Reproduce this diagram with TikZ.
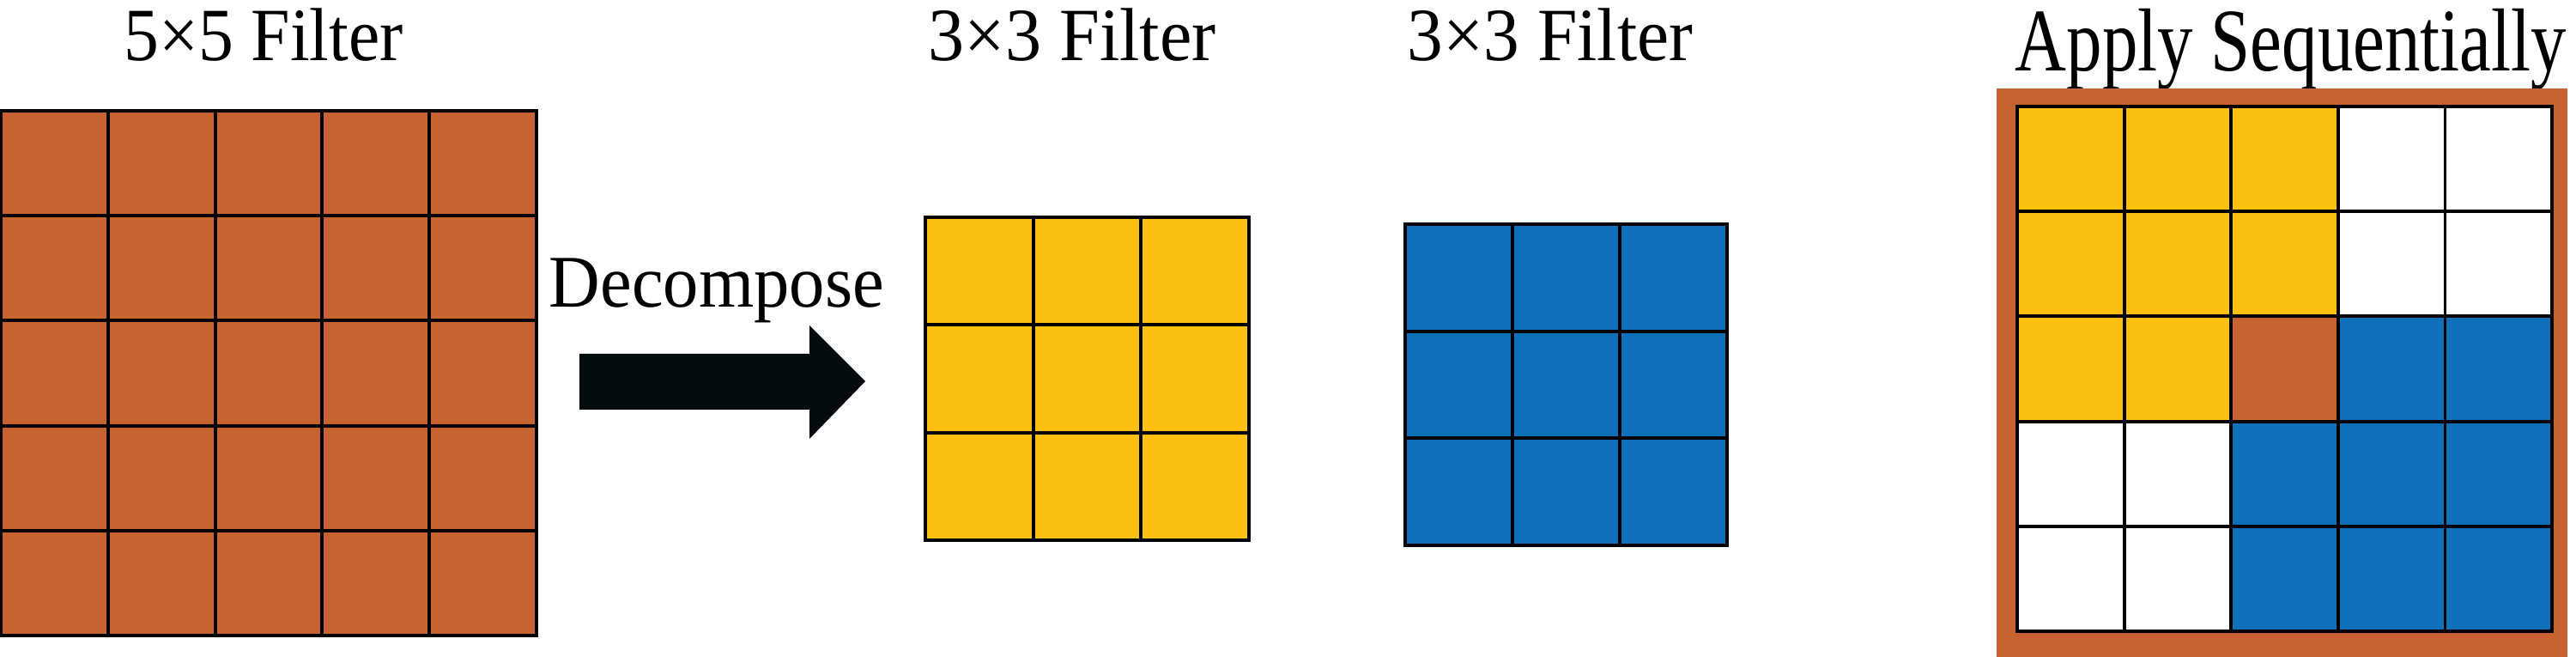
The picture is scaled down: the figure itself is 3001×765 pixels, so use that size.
\documentclass[tikz,border=0pt]{standalone}
\usepackage{graphicx}
\usepackage{fontspec}
\setmainfont{Liberation Serif}
\definecolor{cor}{HTML}{C66330}
\definecolor{cyel}{HTML}{FCC011}
\definecolor{cblu}{HTML}{1070B9}
\definecolor{carr}{HTML}{050A0C}
\newcommand{\fittext}[3]{\resizebox{#1}{\height}{\fontsize{#2}{#2}\selectfont #3}}
\begin{document}
\begin{tikzpicture}[x=0.01cm,y=-0.01cm,
  cellbox/.style={draw=black,line width=1.1pt},
  lbl/.style={anchor=base,inner sep=0pt,outer sep=0pt}]
\useasboundingbox (0,0) rectangle (3001,765);
% titles
\node[lbl] (t55) at (307,71) {\fittext{3.25cm}{24.9pt}{5×5 Filter}};
\node[lbl] (t33a) at (1249,71) {\fittext{3.35cm}{24.9pt}{3×3 Filter}};
\node[lbl] (t33b) at (1806,71) {\fittext{3.32cm}{24.9pt}{3×3 Filter}};
\node[lbl] (tap) at (2669,83) {\fittext{6.42cm}{29.6pt}{Apply Sequentially}};
\node[lbl] (tdec) at (835,358) {\fittext{3.90cm}{24.6pt}{Decompose}};
% 5x5 filter
\foreach \i in {0,...,4}{\foreach \j in {0,...,4}{
  \path[fill=cor,cellbox] ({1+\i*124.8},{129+\j*122.2}) rectangle ++(124.8,122.2);}}
% arrow
\fill[carr] (675,412) -- (943,412) -- (943,379) -- (1008,444) -- (943,511) -- (943,477) -- (675,477) -- cycle;
% yellow 3x3
\foreach \i in {0,...,2}{\foreach \j in {0,...,2}{
  \path[fill=cyel,cellbox] ({1078+\i*125.7},{253+\j*125.3}) rectangle ++(125.7,125.3);}}
% blue 3x3
\foreach \i in {0,...,2}{\foreach \j in {0,...,2}{
  \path[fill=cblu,cellbox] ({1637+\i*125},{261+\j*124.7}) rectangle ++(125,124.7);}}
% apply sequentially
\fill[cor] (2326,103) rectangle (2991,765);
\foreach \row [count=\j from 0] in {{cyel,cyel,cyel,white,white},{cyel,cyel,cyel,white,white},{cyel,cyel,cor,cblu,cblu},{white,white,cblu,cblu,cblu},{white,white,cblu,cblu,cblu}}{
  \foreach \c [count=\i from 0] in \row {
    \path[fill=\c,cellbox] ({2350+\i*124.6},{124+\j*122.2}) rectangle ++(124.6,122.2);}}
\end{tikzpicture}
\end{document}
